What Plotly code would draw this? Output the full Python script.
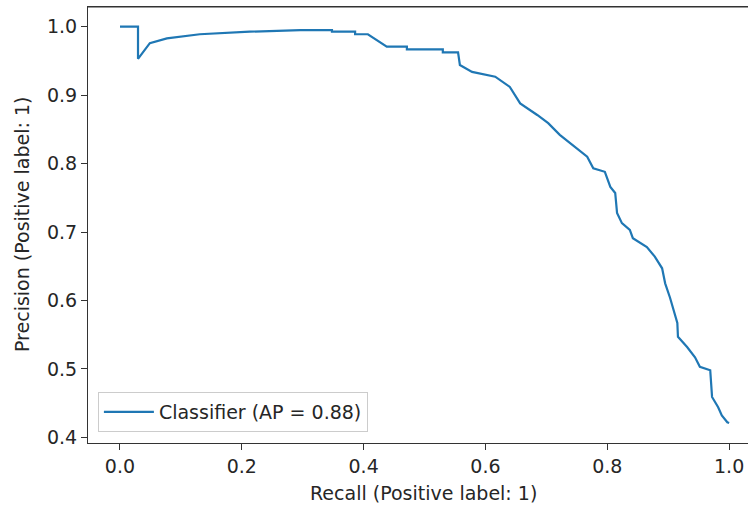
import plotly.graph_objects as go

recall = [0.0, 0.0296, 0.0296, 0.049, 0.077, 0.131, 0.213, 0.296, 0.348, 0.348,
          0.386, 0.386, 0.407, 0.438, 0.471, 0.471, 0.530, 0.530, 0.555, 0.558,
          0.578, 0.608, 0.616, 0.640, 0.657, 0.685, 0.703, 0.722, 0.744, 0.767,
          0.777, 0.796, 0.805, 0.813, 0.816, 0.824, 0.837, 0.842, 0.865, 0.878,
          0.890, 0.895, 0.903, 0.908, 0.915, 0.916, 0.931, 0.944, 0.952, 0.969,
          0.972, 0.982, 0.988, 0.997, 1.0]
precision = [1.0, 1.0, 0.953, 0.976, 0.983, 0.989, 0.9927, 0.995, 0.995, 0.9927,
             0.9927, 0.989, 0.989, 0.971, 0.971, 0.967, 0.967, 0.9626, 0.9626, 0.944,
             0.934, 0.928, 0.927, 0.912, 0.888, 0.871, 0.859, 0.842, 0.827, 0.810,
             0.793, 0.788, 0.766, 0.757, 0.728, 0.713, 0.703, 0.691, 0.678, 0.664,
             0.647, 0.625, 0.604, 0.590, 0.567, 0.547, 0.532, 0.517, 0.503, 0.498,
             0.459, 0.444, 0.432, 0.422, 0.421]

x_ticks = [0.0, 0.2, 0.4, 0.6, 0.8, 1.0]
y_ticks = [0.4, 0.5, 0.6, 0.7, 0.8, 0.9, 1.0]
series_name = "Classifier (AP = 0.88)"

FONT = "DejaVu Sans"
TXT = "#262626"
FS = 19

fig = go.Figure()
fig.add_trace(go.Scatter(x=recall, y=precision, mode="lines", name=series_name,
                         line=dict(color="#1f77b4", width=2.2)))

fig.update_layout(
    width=748, height=508,
    margin=dict(l=88, r=0, t=7, b=65),
    paper_bgcolor="white", plot_bgcolor="white",
    font=dict(family=FONT, size=FS, color=TXT),
    showlegend=True,
    legend=dict(x=0.015, y=0.025, xanchor="left", yanchor="bottom",
                bgcolor="white", bordercolor="#cccccc", borderwidth=1,
                itemwidth=50,
                font=dict(family=FONT, size=FS, color=TXT)),
    xaxis=dict(range=[-0.0525, 1.031], tickvals=x_ticks, tickformat=".1f",
               showgrid=False, zeroline=False, showline=True, linecolor="#333",
               linewidth=1.2, mirror=True, ticks="outside", ticklen=6,
               tickcolor="#333", tickfont=dict(size=FS, color=TXT)),
    yaxis=dict(range=[0.3917, 1.0288], tickvals=y_ticks, tickformat=".1f",
               showgrid=False, zeroline=False, showline=True, linecolor="#333",
               linewidth=1.2, mirror=False, ticks="outside", ticklen=6,
               tickcolor="#333", tickfont=dict(size=FS, color=TXT)),
    annotations=[
        dict(text="Recall (Positive label: 1)", xref="paper", yref="paper",
             x=0.509, y=0, yshift=-50, xanchor="center", yanchor="middle",
             showarrow=False, font=dict(size=FS, color=TXT)),
        dict(text="Precision (Positive label: 1)", xref="paper", yref="paper",
             x=0, xshift=-66, y=0.5, xanchor="center", yanchor="middle",
             textangle=-90, showarrow=False, font=dict(size=FS, color=TXT)),
    ],
)
fig.add_shape(type="line", xref="paper", yref="paper", x0=0, x1=1, y0=1, y1=1,
              line=dict(color="#333", width=1.2))

fig.write_html("out.html")
